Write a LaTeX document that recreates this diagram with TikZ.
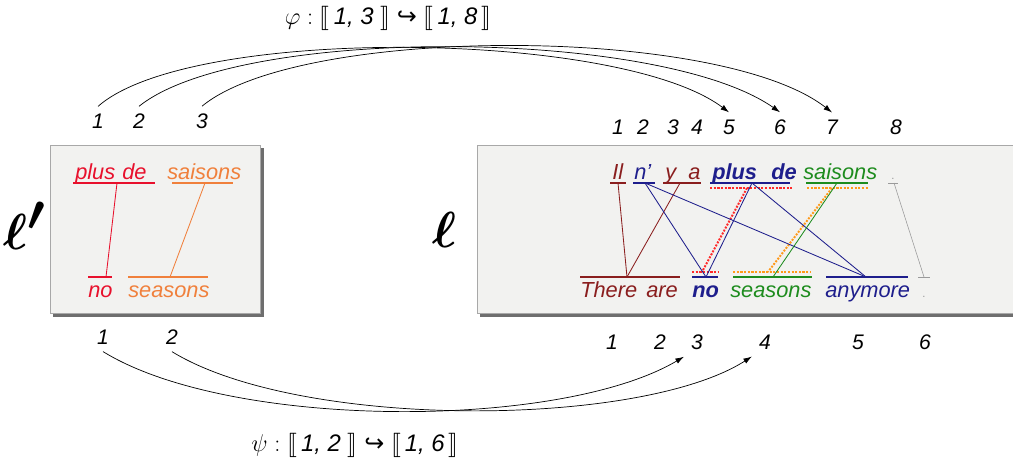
\documentclass[tikz,border=0pt]{standalone}
\usepackage{fontspec}
\setmainfont{Liberation Sans}
\newfontfamily\symfont{DejaVu Sans}
\usepackage{amsmath}
\usepackage{stmaryrd}
\usetikzlibrary{arrows.meta}
\definecolor{wbrown}{HTML}{8A1E1E}
\definecolor{wblue}{HTML}{1E1E8C}
\definecolor{wgreen}{HTML}{1E8C1E}
\definecolor{wred}{HTML}{E8102C}
\definecolor{worange}{HTML}{F0803C}
\definecolor{wgray}{HTML}{9A9A9A}
\definecolor{dotred}{HTML}{FF2A2A}
\definecolor{dotorange}{HTML}{FF9A1A}
\definecolor{boxfill}{HTML}{F2F2F0}
\definecolor{boxline}{HTML}{A8A8A8}
\definecolor{boxshade}{HTML}{6E6E6E}
\newcommand{\injto}{\mathrel{\text{\symfont\char"21AA}}}
\tikzset{
  word/.style={anchor=base west, inner sep=0pt, font=\fontsize{15.5}{18}\selectfont\itshape},
  bword/.style={word, font=\fontsize{15.5}{18}\selectfont\bfseries\itshape},
  idx/.style={inner sep=5pt, font=\fontsize{15}{18}\selectfont\itshape},
  uline/.style={line width=1pt},
  link/.style={line width=0.6pt},
  match/.style={densely dotted, line width=1.6pt},
  mapto/.style={-{Latex[length=6pt,width=4pt]}, line width=0.5pt},
  panel/.style={draw=boxline, fill=boxfill, line width=0.6pt},
  langname/.style={inner sep=0pt, scale=1.45, font=\fontsize{40}{40}\selectfont\boldmath},
  mapname/.style={font=\fontsize{17}{20}\selectfont}
}

\begin{document}
\begin{tikzpicture}[x=0.025cm, y=-0.025cm]
  \useasboundingbox (0,0) rectangle (1013,466);

  % panels
  \fill[boxshade] (53,148) rectangle (264,317);
  \draw[panel] (50,145) rectangle (260,313);
  \fill[boxshade] (480,148) rectangle (1025,317);
  \draw[panel] (477,145) rectangle (1025,313);

  \node[langname] (lp) at (25,226) {$\ell'$};
  \node[langname] (l) at (445,230) {$\ell$};

  % left sentence
  \node[word, wred] (lplus) at (75,179) {plus};
  \node[word, wred] (lde) at (122,179) {de};
  \node[word, worange] (lsais) at (167,179) {saisons};
  \node[word, wred] (lno) at (88,297) {no};
  \node[word, worange] (lseas) at (128,297) {seasons};

  \draw[uline, wred] (73,183) -- (155,183);
  \draw[uline, worange] (172,183) -- (233,183);
  \draw[uline, wred] (88,277) -- (112,277);
  \draw[uline, worange] (128,277) -- (208,277);

  \coordinate (cpd) at (117,183);
  \coordinate (css) at (205,183);
  \coordinate (cno) at (106,277);
  \coordinate (cse) at (170,277);
  \draw[link, wred] (cpd) -- (cno);
  \draw[link, worange] (css) -- (cse);

  % right sentence, french
  \node[word, wbrown] (il) at (612,179) {Il};
  \node[word, wblue] (ne) at (634,179) {n'};
  \node[word, wbrown] (y) at (665,179) {y};
  \node[word, wbrown] (a) at (688,179) {a};
  \node[bword, wblue] (plus) at (712,179) {plus};
  \node[bword, wblue] (de) at (771,179) {de};
  \node[word, wgreen] (sais) at (803,179) {saisons};
  \node[word, wgray, font=\fontsize{8}{8}\selectfont] (dot) at (891,179) {.};

  % right sentence, english
  \node[word, wbrown] (there) at (580,297) {There};
  \node[word, wbrown] (are) at (646,297) {are};
  \node[bword, wblue] (no) at (692,297) {no};
  \node[word, wgreen] (seas) at (730,297) {seasons};
  \node[word, wblue] (any) at (825,297) {anymore};
  \node[word, wgray, font=\fontsize{8}{8}\selectfont] (dotb) at (922,297) {.};

  \draw[uline, wbrown] (610,183) -- (626,183);
  \draw[uline, wblue] (633,183) -- (655,183);
  \draw[uline, wbrown] (663,183) -- (701,183);
  \draw[uline, wblue] (710,183) -- (790,183);
  \draw[uline, wgreen] (806,183) -- (868,183);
  \draw[wgray, line width=0.5pt] (888,183) -- (898,183);
  \draw[uline, wbrown] (580,277) -- (680,277);
  \draw[uline, wblue] (692,277) -- (718,277);
  \draw[uline, wgreen] (733,277) -- (812,277);
  \draw[uline, wblue] (826,277) -- (908,277);
  \draw[wgray, line width=0.5pt] (918,277) -- (930,277);

  \draw[match, dotred] (710,188) -- (792,188);
  \draw[match, dotorange] (807,188) -- (868,188);
  \draw[match, dotred] (692,272) -- (718,272);
  \draw[match, dotorange] (733,272) -- (810,272);

  \coordinate (cil) at (618,183);
  \coordinate (cne) at (645,183);
  \coordinate (cya) at (680,183);
  \coordinate (cplus) at (752,183);
  \coordinate (csais) at (837,183);
  \coordinate (cdot) at (894,183);
  \coordinate (cthere) at (627,277);
  \coordinate (cno2) at (706,277);
  \coordinate (cseas) at (773,277);
  \coordinate (cany) at (866,277);
  \coordinate (cdotb) at (924,277);
  \coordinate (mplus) at (747,188);
  \coordinate (mno) at (702,272);
  \coordinate (msais) at (832,188);
  \coordinate (mseas) at (768,272);

  \draw[match, dotred, line width=1.4pt] (mplus) -- (mno);
  \draw[match, dotorange, line width=1.4pt] (msais) -- (mseas);
  \draw[link, wbrown] (cil) -- (cthere);
  \draw[link, wbrown] (cya) -- (cthere);
  \draw[link, wblue] (cne) -- (cno2);
  \draw[link, wblue] (cne) -- (cany);
  \draw[link, wblue] (cplus) -- (cno2);
  \draw[link, wblue] (cplus) -- (cany);
  \draw[link, wgreen] (csais) -- (cseas);
  \draw[link, wgray, line width=0.4pt] (cdot) -- (cdotb);

  % indices
  \node[idx] (s1) at (98,121) {1};
  \node[idx] (s2) at (139,121) {2};
  \node[idx] (s3) at (202,121) {3};
  \node[idx] (t1) at (618,127) {1};
  \node[idx] (t2) at (643,127) {2};
  \node[idx] (t3) at (673,127) {3};
  \node[idx] (t4) at (697,127) {4};
  \node[idx] (t5) at (729,127) {5};
  \node[idx] (t6) at (780,127) {6};
  \node[idx] (t7) at (832,127) {7};
  \node[idx] (t8) at (896,127) {8};
  \node[idx] (u1) at (103,337) {1};
  \node[idx] (u2) at (172,337) {2};
  \node[idx] (v1) at (612,342) {1};
  \node[idx] (v2) at (660,342) {2};
  \node[idx] (v3) at (697,342) {3};
  \node[idx] (v4) at (765,342) {4};
  \node[idx] (v5) at (858,342) {5};
  \node[idx] (v6) at (925,342) {6};

  % mappings
  \draw[mapto] (s1.north) .. controls (190,25) and (620,30) .. (t5.north);
  \draw[mapto] (s2.north) .. controls (240,25) and (660,28) .. (t6.north);
  \draw[mapto] (s3.north) .. controls (300,25) and (720,25) .. (t7.north);
  \draw[mapto] (u1.south) .. controls (230,430) and (560,430) .. (v3.south west);
  \draw[mapto] (u2.south) .. controls (300,430) and (640,428) .. (v4.south west);

  \node[mapname] (phi) at (388,18)
    {$\varphi:\llbracket\mkern3mu\textit{1, 3}\mkern5mu\rrbracket\injto\llbracket\mkern3mu\textit{1, 8}\mkern3mu\rrbracket$};
  \node[mapname] (psi) at (355,445)
    {$\psi:\llbracket\mkern3mu\textit{1, 2}\mkern5mu\rrbracket\injto\llbracket\mkern3mu\textit{1, 6}\mkern3mu\rrbracket$};
\end{tikzpicture}
\end{document}
